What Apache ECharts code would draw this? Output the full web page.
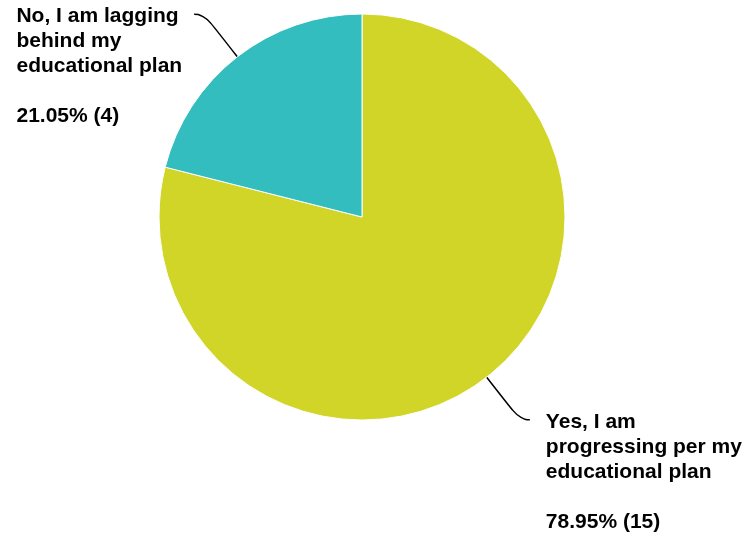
<!DOCTYPE html>
<html>
<head>
<meta charset="utf-8">
<script src="https://cdn.jsdelivr.net/npm/echarts@6/dist/echarts.min.js"></script>
<style>
html,body{margin:0;padding:0;background:#fff;}
#chart{width:749px;height:534px;}
</style>
</head>
<body>
<div id="chart"></div>
<script>
var categories = ['Yes, I am\nprogressing per my\neducational plan', 'No, I am lagging\nbehind my\neducational plan'];
var values = [15, 4];
var colors = ['#D0D528', '#33BDBE'];

var chart = echarts.init(document.getElementById('chart'), null, {renderer: 'canvas'});
var data = categories.map(function (c, i) {
  return {name: c, value: values[i], itemStyle: {color: colors[i]}};
});
chart.setOption({
  animation: false,
  backgroundColor: '#ffffff',
  series: [{
    type: 'pie',
    center: [362, 217],
    radius: 203,
    startAngle: 90,
    clockwise: true,
    avoidLabelOverlap: false,
    itemStyle: {borderColor: '#ffffff', borderWidth: 1},
    label: {
      show: true,
      position: 'outside',
      formatter: '{b}\n\n{d}% ({c})',
      fontFamily: 'Liberation Sans, Arial, sans-serif',
      fontWeight: 'bold',
      fontSize: 21,
      lineHeight: 25,
      color: '#000000',
      align: 'left'
    },
    labelLine: {
      show: true,
      length: 54,
      length2: 10,
      smooth: 0.6,
      lineStyle: {color: '#000000', width: 1.5}
    },
    labelLayout: function (params) {
      var pts = params.labelLinePoints;
      if (!pts) return {};
      var end = pts[pts.length - 1];
      var left = end[0] < pts[0][0];
      var x = left ? end[0] - 12 - params.labelRect.width : end[0] + 16;
      return {
        x: x,
        y: end[1] - 10,
        align: 'left',
        verticalAlign: 'top',
        labelLinePoints: pts
      };
    },
    emphasis: {disabled: true},
    data: data
  }]
});
</script>
</body>
</html>
